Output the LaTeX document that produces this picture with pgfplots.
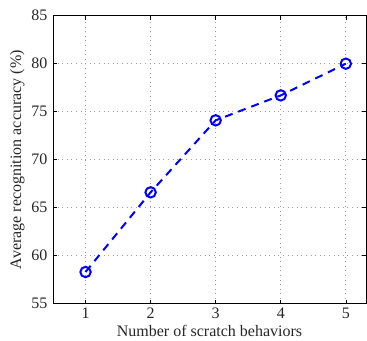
\documentclass[border=0pt]{standalone}
\usepackage{fontspec}
\setmainfont{Liberation Serif}
\usepackage{pgfplots}
\pgfplotsset{compat=1.18}
\begin{document}
\fontsize{16}{19}\selectfont
\begin{tikzpicture}[x=1pt,y=1pt]
\begin{axis}[
  name=ax,
  scale only axis,
  width=313pt, height=288pt,
  xmin=0.5, xmax=5.31,
  ymin=55, ymax=85,
  xtick={1,2,3,4,5},
  ytick={55,60,65,70,75,80,85},
  tick align=inside,
  major tick length=4pt,
  grid=major,
  grid style={dash pattern=on 1pt off 3.6pt, gray!75, line width=0.7pt},
  axis line style={black, line width=0.9pt},
  tick style={black, line width=0.6pt},
  /pgf/number format/assume math mode=true,
  ticklabel style={font=\fontsize{16}{19}\selectfont, text=black!85},
  label style={font=\fontsize{16}{19}\selectfont, text=black!85},
  xticklabel style={yshift=-3.5pt, inner sep=1pt},
  xlabel={Number of scratch behaviors},
  ylabel={Average recognition accuracy (\%)},
  xlabel style={yshift=-4pt, inner sep=0.5pt},
  ylabel style={yshift=-4pt},
  clip=false,
]
\addplot[blue, line width=2pt, dash pattern=on 8pt off 6pt,
  mark=o, mark size=5.2pt, mark options={solid, line width=2pt}]
  coordinates {(1,58.3) (2,66.6) (3,74.1) (4,76.7) (5,80.0)};
\end{axis}
\pgfresetboundingbox
\path (ax.south west) ++(-53pt,-37pt) coordinate (bl);
\path (ax.north east) ++(1pt,15.7pt) coordinate (tr);
\path[use as bounding box] (bl) rectangle (tr);
\end{tikzpicture}
\end{document}
